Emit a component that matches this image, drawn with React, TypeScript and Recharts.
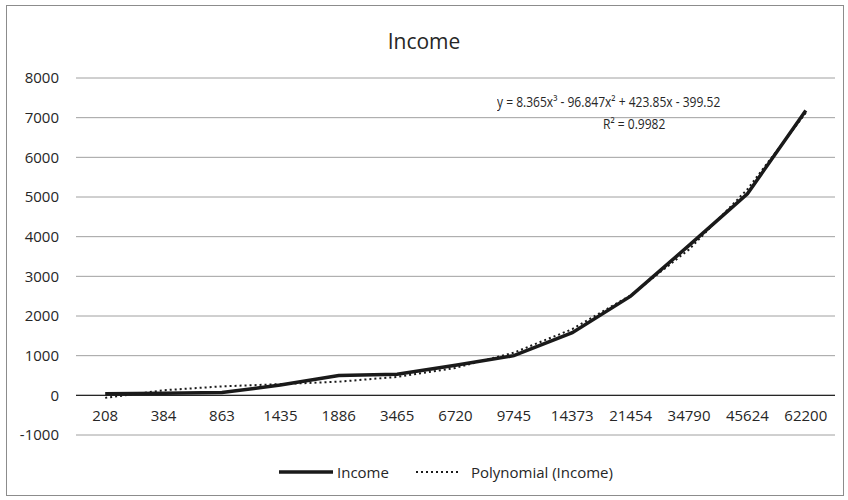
import React from "react";
import {
  ComposedChart,
  Line,
  XAxis,
  YAxis,
  CartesianGrid,
  ReferenceLine,
} from "recharts";

const categories = ["208", "384", "863", "1435", "1886", "3465", "6720", "9745", "14373", "21454", "34790", "45624", "62200"];
const income = [40, 50, 70, 260, 500, 530, 760, 1000, 1580, 2500, 3780, 5080, 7180];
// trendline values
const polynomial = [-64, 128, 226, 282, 344, 464, 691, 1076, 1669, 2519, 3678, 5195, 7122];
const yTicks = [-1000, 0, 1000, 2000, 3000, 4000, 5000, 6000, 7000, 8000];

const FONT = "'Open Sans', sans-serif";
const TEXT = "#262626";

const data = categories.map((c, i) => ({ x: c, income: income[i], poly: polynomial[i] }));

function CatTick(props: any) {
  const { x, y, payload } = props;
  return (
    <text x={x} y={y - 22} textAnchor="middle" fill={TEXT} fontSize={15} fontFamily={FONT}>
      {payload.value}
    </text>
  );
}

export default function App() {
  return (
    <div style={{ position: "fixed", left: 0, top: 0, width: 848, height: 500, background: "#fff", fontFamily: FONT }}>
      <div style={{ position: "absolute", left: 6, top: 5, width: 836, height: 489, border: "1px solid #8c8c8c" }} />
      <div style={{ position: "absolute", left: 0, width: 848, top: 27, textAlign: "center", fontSize: 21, color: TEXT }}>
        Income
      </div>
      <ComposedChart width={848} height={500} data={data} margin={{ top: 78, right: 13, bottom: 35, left: 0 }}>
        <CartesianGrid vertical={false} stroke="#a0a0a0" />
        <XAxis dataKey="x" scale="band" axisLine={false} tickLine={false} height={30} tick={<CatTick />} interval={0} />
        <YAxis
          domain={[-1000, 8000]}
          ticks={yTicks}
          width={76}
          axisLine={false}
          tickLine={false}
          tickMargin={11}
          tick={{ fontSize: 15, fill: TEXT, fontFamily: FONT }}
          allowDataOverflow
        />
        <ReferenceLine y={0} stroke="#262626" strokeWidth={1.2} />
        <Line dataKey="income" stroke="#1a1a1a" strokeWidth={3.5} dot={false} isAnimationActive={false} />
        <Line dataKey="poly" stroke="#1a1a1a" strokeWidth={2} strokeDasharray="2 3" dot={false} isAnimationActive={false} />
      </ComposedChart>
      <div style={{ position: "absolute", left: 497, top: 92, fontSize: 14, color: TEXT, whiteSpace: "nowrap", transform: "scaleX(0.86)", transformOrigin: "left" }}>
        y = 8.365x³ - 96.847x² + 423.85x - 399.52
      </div>
      <div style={{ position: "absolute", left: 603, top: 114, fontSize: 14, color: TEXT, whiteSpace: "nowrap", transform: "scaleX(0.86)", transformOrigin: "left" }}>
        R² = 0.9982
      </div>
      <div style={{ position: "absolute", left: 0, width: 848, paddingLeft: 44, boxSizing: "border-box", top: 462, display: "flex", justifyContent: "center", alignItems: "center", fontSize: 15, color: TEXT }}>
        <svg width={54} height={10} style={{ marginRight: 4 }}>
          <line x1={0} y1={5} x2={54} y2={5} stroke="#1a1a1a" strokeWidth={3.5} />
        </svg>
        <span style={{ marginRight: 26 }}>Income</span>
        <svg width={46} height={10} style={{ marginRight: 10 }}>
          <line x1={1} y1={5} x2={46} y2={5} stroke="#1a1a1a" strokeWidth={2} strokeDasharray="2 3" />
        </svg>
        <span>Polynomial (Income)</span>
      </div>
    </div>
  );
}
